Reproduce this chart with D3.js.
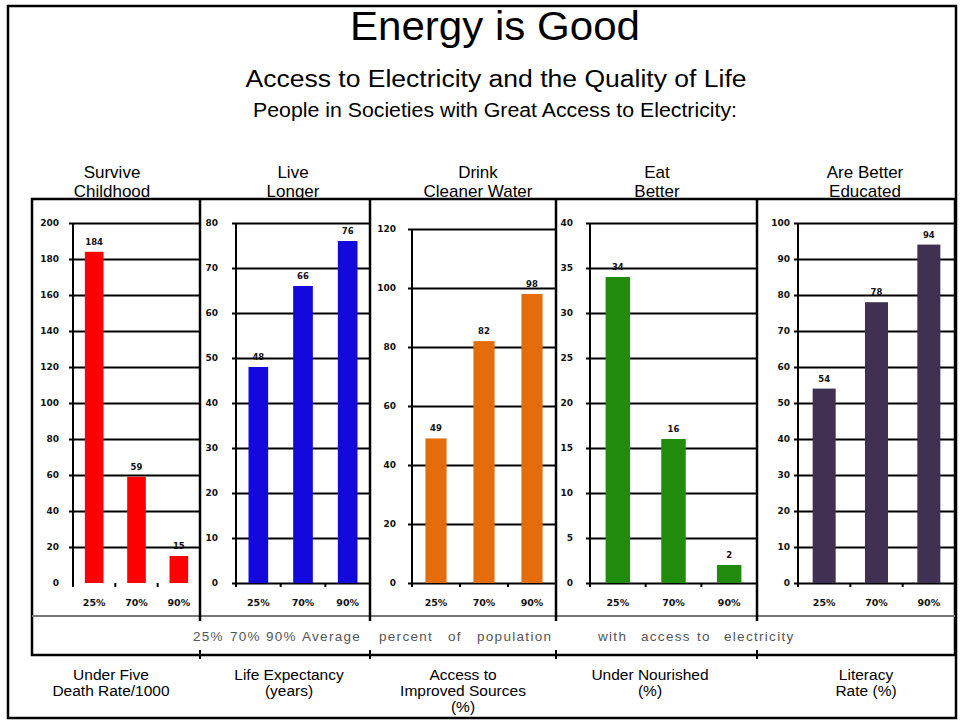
<!DOCTYPE html>
<html>
<head>
<meta charset="utf-8">
<script src="https://cdn.jsdelivr.net/npm/d3@7"></script>
<style>
  html, body { margin: 0; padding: 0; background: #fff; }
  svg { display: block; }
  text { font-family: "Liberation Sans", Arial, sans-serif; }
  .num { font-family: "DejaVu Sans", Verdana, sans-serif; font-weight: bold; }
</style>
</head>
<body>
<svg id="chart" width="960" height="723"></svg>
<script>
// ---------------- DATA ----------------
const titleText = "Energy is Good";
const subtitleText = "Access to Electricity and the Quality of Life";
const leadText = "People in Societies with Great Access to Electricity:";
const categories = ["25%", "70%", "90%"];
const panelTitles = [["Survive", "Childhood"], ["Live", "Longer"], ["Drink", "Cleaner Water"], ["Eat", "Better"], ["Are Better", "Educated"]];
const measureLabels = [["Under Five", "Death Rate/1000"], ["Life Expectancy", "(years)"], ["Access to", "Improved Sources", "(%)"], ["Under Nourished", "(%)"], ["Literacy", "Rate (%)"]];
const underFiveDeathRate = [184, 59, 15];
const lifeExpectancy = [48, 66, 76];
const improvedWater = [49, 82, 98];
const underNourished = [34, 16, 2];
const literacyRate = [54, 78, 94];
const seriesValues = [underFiveDeathRate, lifeExpectancy, improvedWater, underNourished, literacyRate];
const yMaxima = [200, 80, 120, 40, 100];
const yTickSteps = [20, 10, 20, 5, 10];
const footnoteWords = ["25%", "70%", "90%", "Average", "percent", "of", "population", "with", "access", "to", "electricity"];

// ---------------- LAYOUT / STYLE ----------------
const colors = ["#ff0000", "#1309dd", "#e46c0a", "#218c0c", "#403152"];
const dividers = [32, 200, 370, 556, 757, 955];
const axisXs = [73, 236, 412, 590, 798];
const labelRights = [59, 218, 396, 573, 790];
const plotTops = [223, 223, 229, 223, 223];
const showBaseline = [false, true, true, true, true];
const titleCenters = [112, 293, 478, 657, 865];
const measureCenters = [111, 289, 463, 650, 866];
const footnoteXs = [193, 230, 266, 302, 379, 448, 477, 598, 641, 697, 724];
const baseY = 583, frameTop = 199, sepY = 616, frameBottom = 655;

const svg = d3.select("#chart");

// outer border
svg.append("rect").attr("x", 8).attr("y", 6).attr("width", 948).attr("height", 712)
  .attr("fill", "none").attr("stroke", "#000").attr("stroke-width", 2.5);

// headings
svg.append("text").attr("x", 495).attr("y", 40).attr("text-anchor", "middle")
  .attr("font-size", 41).attr("textLength", 290).attr("lengthAdjust", "spacingAndGlyphs").text(titleText);
svg.append("text").attr("x", 496).attr("y", 87).attr("text-anchor", "middle")
  .attr("font-size", 23.5).attr("textLength", 501).attr("lengthAdjust", "spacingAndGlyphs").text(subtitleText);
svg.append("text").attr("x", 495).attr("y", 117).attr("text-anchor", "middle")
  .attr("font-size", 19.5).attr("textLength", 484).attr("lengthAdjust", "spacingAndGlyphs").text(leadText);

// panel frame
svg.append("rect").attr("x", dividers[0]).attr("y", frameTop)
  .attr("width", dividers[5] - dividers[0]).attr("height", frameBottom - frameTop)
  .attr("fill", "none").attr("stroke", "#000").attr("stroke-width", 2.5);
svg.append("line").attr("x1", dividers[0]).attr("x2", dividers[5]).attr("y1", sepY).attr("y2", sepY)
  .attr("stroke", "#777").attr("stroke-width", 2);

seriesValues.forEach((vals, i) => {
  const x0 = dividers[i], x1 = dividers[i + 1];
  const ax = axisXs[i];
  const g = svg.append("g");
  const y = d3.scaleLinear().domain([0, yMaxima[i]]).range([baseY, plotTops[i]]);
  const x = d3.scaleBand().domain(categories).range([ax, x1]).paddingInner(0.56).paddingOuter(0.28);
  const ticks = d3.range(0, yMaxima[i] + yTickSteps[i] / 2, yTickSteps[i]);

  // y axis with gridlines
  const yAxis = d3.axisLeft(y).tickValues(ticks).tickSizeInner(-(x1 - ax)).tickSizeOuter(0)
    .tickPadding(ax - labelRights[i]).tickFormat(d3.format("d"));
  const ag = g.append("g").attr("transform", `translate(${ax},0)`).call(yAxis);
  ag.select(".domain").remove();
  ag.selectAll(".tick line").attr("x1", -4).attr("x2", x1 - ax)
    .attr("stroke", "#000").attr("stroke-width", 2)
    .attr("display", d => (d === 0 && !showBaseline[i]) ? "none" : null);
  ag.selectAll(".tick text").attr("class", "num").attr("font-size", 9).attr("fill", "#111");

  // vertical axis line
  g.append("line").attr("x1", ax).attr("x2", ax).attr("y1", y(yMaxima[i])).attr("y2", baseY + 4)
    .attr("stroke", "#000").attr("stroke-width", 2);

  // bars
  g.selectAll("rect.bar").data(vals).enter().append("rect").attr("class", "bar")
    .attr("x", (d, j) => x(categories[j])).attr("width", x.bandwidth())
    .attr("y", d => y(d)).attr("height", d => baseY - y(d)).attr("fill", colors[i]);

  // value labels
  g.selectAll("text.val").data(vals).enter().append("text").attr("class", "num")
    .attr("x", (d, j) => x(categories[j]) + x.bandwidth() / 2).attr("y", d => y(d) - 7)
    .attr("text-anchor", "middle").attr("font-size", 8.5).attr("fill", "#111").text(d => d);

  // x axis labels
  const xAxis = d3.axisBottom(x).tickSize(0).tickPadding(16);
  const xg = g.append("g").attr("transform", `translate(0,${baseY})`).call(xAxis);
  xg.select(".domain").remove();
  xg.selectAll(".tick text").attr("class", "num").attr("font-size", 9.5).attr("fill", "#111");

  // boundary ticks between categories
  const bounds = categories.slice(1).map(c => x(c) - x.step() * x.paddingInner() / 2);
  g.selectAll("line.xt").data(bounds).enter().append("line")
    .attr("x1", d => d).attr("x2", d => d).attr("y1", baseY).attr("y2", baseY + 4)
    .attr("stroke", "#000").attr("stroke-width", 2);

  // panel title
  panelTitles[i].forEach((t, k) => {
    svg.append("text").attr("x", titleCenters[i]).attr("y", 178 + k * 19)
      .attr("text-anchor", "middle").attr("font-size", 17).text(t);
  });

  // measure label
  measureLabels[i].forEach((t, k) => {
    svg.append("text").attr("x", measureCenters[i]).attr("y", 680 + k * 16)
      .attr("text-anchor", "middle").attr("font-size", 15.5).text(t);
  });
});

// dividers
dividers.slice(1, 5).forEach(d => {
  svg.append("line").attr("x1", d).attr("x2", d).attr("y1", frameTop).attr("y2", sepY + 5)
    .attr("stroke", "#000").attr("stroke-width", 2.5);
  svg.append("line").attr("x1", d).attr("x2", d).attr("y1", frameBottom - 5).attr("y2", frameBottom + 4)
    .attr("stroke", "#000").attr("stroke-width", 2);
});

// footnote row
svg.append("g").selectAll("text").data(footnoteWords).enter().append("text")
  .attr("x", (d, k) => footnoteXs[k]).attr("y", 641)
  .attr("font-size", 13.5).attr("letter-spacing", 1.3).attr("fill", "#555").text(d => d);
</script>
</body>
</html>
